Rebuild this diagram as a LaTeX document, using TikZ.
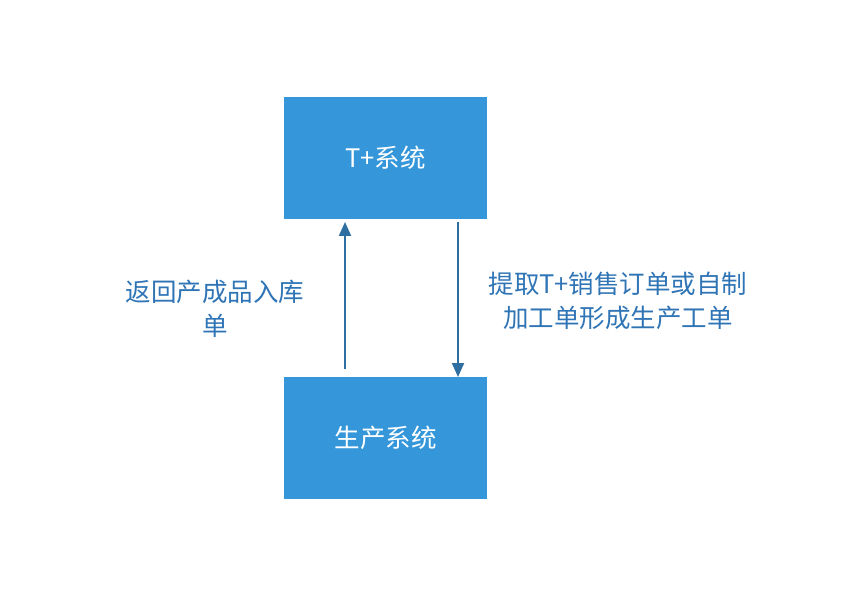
\documentclass[tikz,border=0pt]{standalone}
\usepackage{fontspec}
\newfontfamily\cjk{Noto Sans CJK SC}
\usetikzlibrary{arrows.meta}
\definecolor{boxblue}{HTML}{3597DA}
\definecolor{arrowblue}{HTML}{2F6EA0}
\definecolor{textblue}{HTML}{2F74B5}
\tikzset{
  sysbox/.style={draw=none, fill=boxblue, minimum width=203pt, minimum height=122pt, inner sep=0pt, text=white, font=\cjk\fontsize{25.5}{30}\selectfont},
  flowarrow/.style={draw=arrowblue, line width=2pt, -{Triangle[length=14pt,width=12pt]}},
  flowlabel/.style={text=textblue, font=\cjk\fontsize{25.5}{34}\selectfont, align=center, inner sep=0pt}
}
\begin{document}
\begin{tikzpicture}[x=1pt,y=-1pt]
\useasboundingbox (0,0) rectangle (850,593);
\node[sysbox] (top) at (385.5,158) {T+系统};
\node[sysbox] (bot) at (385.5,437.5) {生产系统};
\coordinate (ls) at (345,369);
\coordinate (le) at (345,222);
\coordinate (rs) at (458,222);
\coordinate (re) at (458,377);
\draw[flowarrow] (ls) -- (le);
\draw[flowarrow] (rs) -- (re);
\node[flowlabel] (lab1) at (215,309) {返回产成品入库\\单};
\node[flowlabel] (lab2) at (618,301) {提取T+销售订单或自制\\加工单形成生产工单};
\end{tikzpicture}
\end{document}
